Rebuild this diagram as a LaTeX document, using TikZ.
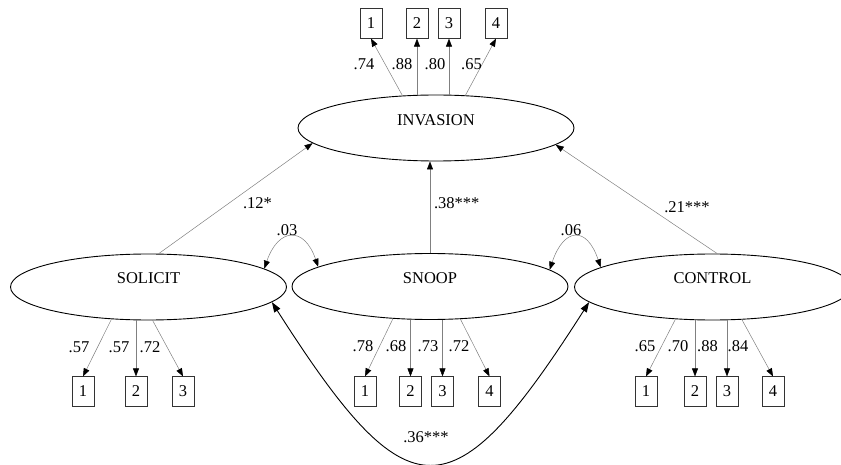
\documentclass[tikz,border=0pt]{standalone}
\usepackage{fontspec}
\setmainfont{Liberation Serif}
\usetikzlibrary{arrows.meta,shapes.geometric}
\begin{document}
\begin{tikzpicture}[x=1pt,y=1pt,
  txt/.style={font=\fontsize{16.5}{18}\selectfont, inner sep=0pt},
  latent/.style={ellipse, draw=black, line width=0.9pt, minimum width=276pt,
    minimum height=66pt, inner sep=0pt},
  item/.style={rectangle, draw=black!80, line width=0.7pt, minimum width=22pt,
    minimum height=29.5pt, inner sep=0pt, font=\fontsize{16.5}{18}\selectfont},
  tip/.style={-{Triangle[length=8pt,width=6pt,black]}},
  load/.style={draw=black!50, line width=0.5pt, tip},
  cov/.style={draw=black!50, line width=0.5pt,
    {Triangle[length=8pt,width=6pt,black]}-{Triangle[length=8pt,width=6pt,black]}},
  bigcov/.style={draw=black, line width=0.9pt,
    {Triangle[length=10pt,width=7pt]}-{Triangle[length=10pt,width=7pt]}},
]
\useasboundingbox (0,0) rectangle (841,-465);

% latent variables
\node[latent, label={[txt, yshift=7.5pt]center:INVASION}] (inv) at (436,-128) {};
\node[latent, label={[txt, yshift=9pt]center:SOLICIT}] (sol) at (148.5,-287) {};
\node[latent, label={[txt, yshift=8pt]center:SNOOP}] (snp) at (430,-286.5) {};
\node[latent, label={[txt, yshift=9pt]center:CONTROL}] (ctl) at (712.5,-287) {};

% indicators
\node[item] (i1) at (371,-23.5) {1};
\node[item] (i2) at (417,-23.5) {2};
\node[item] (i3) at (449,-23.5) {3};
\node[item] (i4) at (496,-23.5) {4};

\node[item] (s1) at (83,-391.5) {1};
\node[item] (s2) at (136,-391.5) {2};
\node[item] (s3) at (183,-391.5) {3};

\node[item] (n1) at (365,-391.5) {1};
\node[item] (n2) at (410.5,-391.5) {2};
\node[item] (n3) at (442.5,-391.5) {3};
\node[item] (n4) at (489.5,-391.5) {4};

\node[item] (c1) at (646,-391.5) {1};
\node[item] (c2) at (695,-391.5) {2};
\node[item] (c3) at (727,-391.5) {3};
\node[item] (c4) at (773,-391.5) {4};

% loadings
\draw[load] (inv.136.75) -- (i1.south);
\draw[load] (i2 |- inv.north) -- (i2.south);
\draw[load] (i3 |- inv.north) -- (i3.south);
\draw[load] (inv.48) -- (i4.south);

\draw[load] (sol.221.9) -- (s1.north);
\draw[load] (s2 |- sol.south) -- (s2.north);
\draw[load] (sol.277.8) -- (s3.north);

\draw[load] (snp.221.9) -- (n1.north);
\draw[load] (n2 |- snp.south) -- (n2.north);
\draw[load] (n3 |- snp.south) -- (n3.north);
\draw[load] (snp.313.4) -- (n4.north);

\draw[load] (ctl.221.9) -- (c1.north);
\draw[load] (c2 |- ctl.south) -- (c2.north);
\draw[load] (c3 |- ctl.south) -- (c3.north);
\draw[load] (ctl.312.5) -- (c4.north);

\node[txt] (li1) at (364,-64) {.74};
\node[txt] (li2) at (402,-64) {.88};
\node[txt] (li3) at (435,-64) {.80};
\node[txt] (li4) at (471.5,-64) {.65};

\node[txt] (ls1) at (79,-347) {.57};
\node[txt] (ls2) at (119,-347) {.57};
\node[txt] (ls3) at (150,-347) {.72};

\node[txt] (ln1) at (363,-346) {.78};
\node[txt] (ln2) at (396,-346) {.68};
\node[txt] (ln3) at (428,-346) {.73};
\node[txt] (ln4) at (459,-346) {.72};

\node[txt] (lc1) at (645,-346) {.65};
\node[txt] (lc2) at (678,-346) {.70};
\node[txt] (lc3) at (707.5,-346) {.88};
\node[txt] (lc4) at (738,-346) {.84};

% structural paths
\draw[load] (sol.73.9) -- (inv.187.5);
\draw[load] (snp.north) -- (snp.north |- inv.south);
\draw[load] (ctl.82) -- (inv.352.5);

\node[txt] (p1) at (257.5,-203) {.12*};
\node[txt] (p2) at (456.7,-203) {.38***};
\node[txt] (p3) at (687,-207) {.21***};

% covariances
\draw[cov] (sol.9.3) .. controls +(14,41) and +(-14,41) .. (snp.170.4);
\draw[cov] (snp.8) .. controls +(14,42) and +(-14,42) .. (ctl.170);
\draw[bigcov] (sol.-7) .. controls +(137,-215) and +(-137,-215) .. (ctl.187);

\node[txt] (r1) at (287,-230) {.03};
\node[txt] (r2) at (571,-230) {.06};
\node[txt] (r3) at (426,-437.5) {.36***};
\end{tikzpicture}
\end{document}
